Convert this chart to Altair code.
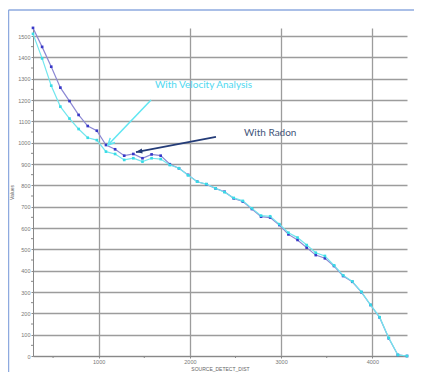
import altair as alt
import pandas as pd

# ---- data ----
dist = [280, 380, 480, 580, 680, 780, 880, 980, 1080, 1180, 1280, 1380, 1480, 1580,
        1680, 1780, 1880, 1980, 2080, 2180, 2280, 2380, 2480, 2580, 2680, 2780, 2880,
        2980, 3080, 3180, 3280, 3380, 3480, 3580, 3680, 3780, 3880, 3980, 4080, 4180,
        4280, 4380]
radon = [1538, 1449, 1356, 1258, 1195, 1130, 1078, 1056, 989, 969, 939, 947, 927, 945,
         939, 899, 880, 849, 817, 805, 786, 770, 739, 724, 689, 653, 649, 614, 570, 544,
         508, 473, 458, 422, 375, 348, 299, 239, 181, 83, 5, 0]
velocity = [1510, 1395, 1267, 1169, 1113, 1064, 1023, 1012, 958, 947, 919, 927, 911, 927,
            923, 895, 880, 847, 817, 806, 786, 768, 741, 727, 692, 658, 655, 618, 578, 555,
            520, 484, 469, 425, 378, 350, 301, 240, 182, 85, 5, 0]

y_ticks = [0, 100, 200, 300, 400, 500, 600, 700, 800, 900, 1000, 1100, 1200, 1300, 1400, 1500]
y_minor = [50, 150, 250, 350, 450, 550, 650, 750, 850, 950, 1050, 1150, 1250, 1350, 1450]
x_ticks = [1000, 2000, 3000, 4000]
x_minor = [500, 1500, 2500, 3500]

# annotations (data coordinates)
ann_text = ["With Velocity Analysis", "With Radon"]
ann_x = [1617, 2593]
ann_y = [1254, 1029]
ann_color = ["#4fd8f0", "#44557a"]
arrow_x = [1574, 2286]
arrow_y = [1200, 1027]
arrow_x2 = [1102, 1409]
arrow_y2 = [989, 956]

X_DOMAIN = [280, 4380]
Y_DOMAIN = [0, 1537.5]

df_r = pd.DataFrame({"dist": dist, "value": radon})
df_v = pd.DataFrame({"dist": dist, "value": velocity})

xs = alt.Scale(domain=X_DOMAIN, nice=False, zero=False)
ys = alt.Scale(domain=Y_DOMAIN, nice=False, zero=False)

x_axis = alt.Axis(values=x_ticks, grid=True, title="SOURCE_DETECT_DIST",
                  format="d", labelPadding=1, titlePadding=2, labelOverlap=False)
y_axis = alt.Axis(values=y_ticks, grid=True, title="Values",
                  format="d", labelPadding=1, titlePadding=3, labelOverlap=False)


def X():
    return alt.X("dist:Q", scale=xs, axis=x_axis)


def Y():
    return alt.Y("value:Q", scale=ys, axis=y_axis)


line_r = alt.Chart(df_r).mark_line(color="#8c88d4", strokeWidth=1.2).encode(x=X(), y=Y())
pts_r = alt.Chart(df_r).mark_point(shape="square", filled=True, size=7, color="#3838c8",
                                   opacity=1).encode(x=X(), y=Y())
line_v = alt.Chart(df_v).mark_line(color="#72e6ee", strokeWidth=1.2).encode(x=X(), y=Y())
pts_v = alt.Chart(df_v).mark_point(shape="square", filled=True, size=7, color="#38dce6",
                                   opacity=1).encode(x=X(), y=Y())

# minor ticks
df_ym = pd.DataFrame({"value": y_minor})
ym = alt.Chart(df_ym).mark_rule(color="#888", strokeWidth=1).encode(
    y=Y(), x=alt.value(-2), x2=alt.value(0))
df_xm = pd.DataFrame({"dist": x_minor})
xm = alt.Chart(df_xm).mark_rule(color="#888", strokeWidth=1).encode(
    x=X(), y=alt.value(328), y2=alt.value(330))

# annotations
df_ann = pd.DataFrame({"text": ann_text, "dist": ann_x, "value": ann_y, "c": ann_color})
ann = alt.Chart(df_ann).mark_text(align="left", baseline="alphabetic", font="Lato",
                                  fontSize=10).encode(
    x=X(), y=Y(), text="text:N", color=alt.Color("c:N", scale=None))

df_arr_v = pd.DataFrame({"dist": [arrow_x[0]], "value": [arrow_y[0]],
                         "dist2": [arrow_x2[0]], "value2": [arrow_y2[0]]})
df_arr_r = pd.DataFrame({"dist": [arrow_x[1]], "value": [arrow_y[1]],
                         "dist2": [arrow_x2[1]], "value2": [arrow_y2[1]]})
df_head_v = pd.DataFrame({"dist": [arrow_x2[0]], "value": [arrow_y2[0]]})
df_head_r = pd.DataFrame({"dist": [arrow_x2[1]], "value": [arrow_y2[1]]})

arr_v = alt.Chart(df_arr_v).mark_rule(color="#5fe6f2", strokeWidth=1.5).encode(
    x=X(), y=Y(), x2="dist2:Q", y2="value2:Q")
arr_r = alt.Chart(df_arr_r).mark_rule(color="#243c78", strokeWidth=1.8).encode(
    x=X(), y=Y(), x2="dist2:Q", y2="value2:Q")
head_v = alt.Chart(df_head_v).mark_point(shape="M-0.8,1.6 L0,0 L0.8,1.6", filled=False,
                                         size=70, color="#5fe6f2", strokeWidth=1.5,
                                         angle=224, opacity=1).encode(x=X(), y=Y())
head_r = alt.Chart(df_head_r).mark_point(shape="M0,0 L-0.8,2 L0.8,2 Z", filled=True,
                                         size=40, color="#243c78", angle=260,
                                         opacity=1).encode(x=X(), y=Y())

# decorative outer frame (as in the screenshot)
frame_l = alt.Chart(df_head_v).mark_rule(color="#8eaadf", strokeWidth=1.5).encode(
    x=alt.value(-24.5), y=alt.value(-18), y2=alt.value(360))
frame_t = alt.Chart(df_head_v).mark_rule(color="#8eaadf", strokeWidth=1.5).encode(
    x=alt.value(-24.5), x2=alt.value(390), y=alt.value(-18))

chart = alt.layer(
    line_r, pts_r, line_v, pts_v, ym, xm, arr_v, head_v, arr_r, head_r, ann, frame_l, frame_t
).properties(
    width=374, height=328,
    autosize=alt.AutoSizeParams(type="none"),
    padding={"left": 25, "top": 20, "right": 7, "bottom": 16},
).configure_view(strokeWidth=0).configure_axis(
    domainColor="#888", tickColor="#888", tickSize=2,
    labelFont="Liberation Sans", labelFontSize=5.5, labelColor="#777",
    titleFont="Liberation Sans", titleFontSize=5, titleFontWeight="normal", titleColor="#666",
    gridColor="#9c9c9c", gridWidth=1.3, gridOpacity=1,
)

chart.save("out.html", embed_options={"renderer": "svg", "actions": False})
